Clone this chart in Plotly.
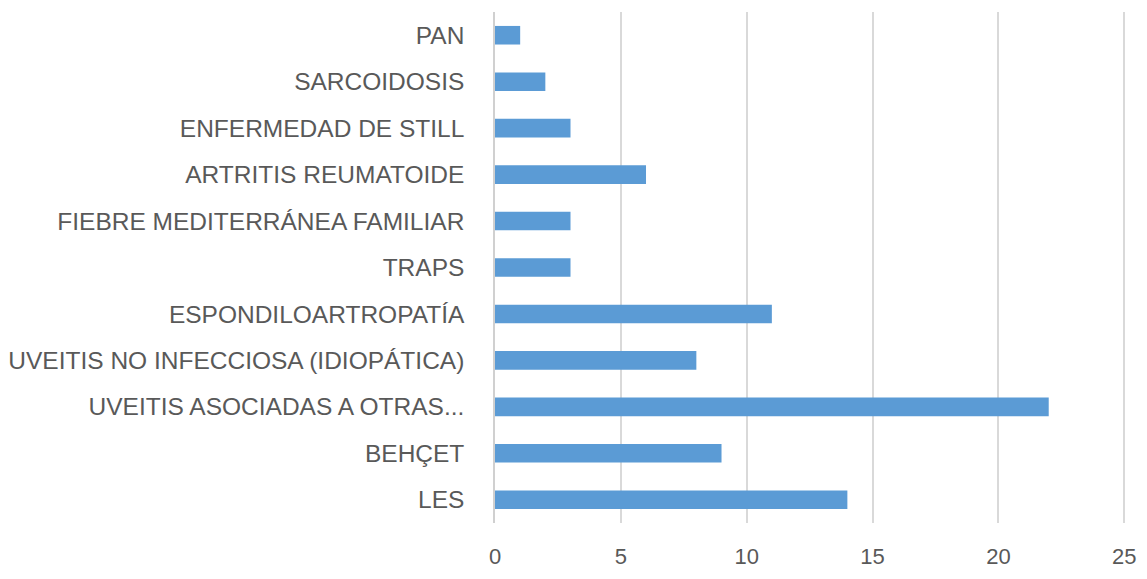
import plotly.graph_objects as go

categories = ["LES", "BEHÇET", "UVEITIS ASOCIADAS A OTRAS...", "UVEITIS NO INFECCIOSA (IDIOPÁTICA)",
              "ESPONDILOARTROPATÍA", "TRAPS", "FIEBRE MEDITERRÁNEA FAMILIAR",
              "ARTRITIS REUMATOIDE", "ENFERMEDAD DE STILL", "SARCOIDOSIS", "PAN"]
values = [14, 9, 22, 8, 11, 3, 3, 6, 3, 2, 1]
x_ticks = [0, 5, 10, 15, 20, 25]

fig = go.Figure(go.Bar(
    y=categories, x=values, orientation="h",
    marker=dict(color="#5b9bd5", line=dict(width=0)),
    width=0.4,
))

fig.update_layout(
    width=1131, height=563,
    margin=dict(l=487, r=11, t=4, b=48, autoexpand=False),
    paper_bgcolor="white", plot_bgcolor="white",
    font=dict(family="Liberation Sans, Arial, sans-serif", size=24.5, color="#595959"),
    showlegend=False,
)
fig.update_xaxes(range=[0, 25.15], tickvals=x_ticks, showgrid=True, gridcolor="#d9d9d9",
                 gridwidth=1.5, zeroline=False, showline=False, ticks="",
                 tickfont=dict(size=22), ticklabelstandoff=18, automargin=False,
                 ticklabeloverflow="allow")
fig.update_yaxes(categoryorder="array", categoryarray=categories, showline=True,
                 linecolor="#d0d0d0", linewidth=1.5, showgrid=False, ticks="",
                 ticklabelstandoff=24, range=[-0.5, 10.5], automargin=False,
                 ticklabeloverflow="allow")

fig.write_html("out.html")
